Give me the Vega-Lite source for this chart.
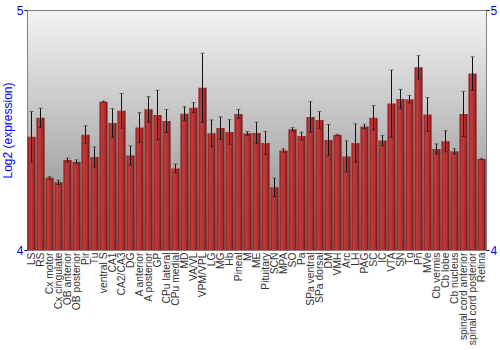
{
  "$schema": "https://vega.github.io/schema/vega-lite/v6.json",
  "width": 459,
  "height": 240,
  "autosize": "none",
  "padding": {"left": 27, "top": 10, "right": 14, "bottom": 100},
  "background": "white",
  "config": {
    "view": {
      "fill": {"gradient": "linear", "x1": 0, "y1": 0, "x2": 0, "y2": 1, "stops": [{"offset": 0, "color": "#f4f4f4"}, {"offset": 1, "color": "#858585"}]},
      "stroke": "#808080"
    },
    "font": "Liberation Sans"
  },
  "data": {"values": [
    {"region": "LS", "v": 4.472, "e": 0.105},
    {"region": "RS", "v": 4.551, "e": 0.04},
    {"region": "Cx motor", "v": 4.301, "e": 0.005},
    {"region": "Cx cingulate", "v": 4.282, "e": 0.009},
    {"region": "OB anterior", "v": 4.375, "e": 0.008},
    {"region": "OB posterior", "v": 4.368, "e": 0.008},
    {"region": "Pir", "v": 4.48, "e": 0.0375},
    {"region": "Tu", "v": 4.3875, "e": 0.042},
    {"region": "ventral S", "v": 4.618, "e": 0.003},
    {"region": "CA1", "v": 4.529, "e": 0.06},
    {"region": "CA2/CA3", "v": 4.58, "e": 0.072},
    {"region": "DG", "v": 4.394, "e": 0.04},
    {"region": "A anterior", "v": 4.51, "e": 0.0625},
    {"region": "A posterior", "v": 4.586, "e": 0.053},
    {"region": "GP", "v": 4.5625, "e": 0.103},
    {"region": "CPu lateral", "v": 4.5375, "e": 0.048},
    {"region": "CPu medial", "v": 4.34, "e": 0.018},
    {"region": "MD", "v": 4.568, "e": 0.029},
    {"region": "VA/VL", "v": 4.593, "e": 0.021},
    {"region": "VPM/VPL", "v": 4.676, "e": 0.144},
    {"region": "LG", "v": 4.486, "e": 0.056},
    {"region": "MG", "v": 4.508, "e": 0.047},
    {"region": "Hb", "v": 4.492, "e": 0.051},
    {"region": "Pineal", "v": 4.567, "e": 0.019},
    {"region": "M", "v": 4.486, "e": 0.008},
    {"region": "ME", "v": 4.4875, "e": 0.045},
    {"region": "Pituitary", "v": 4.446, "e": 0.048},
    {"region": "SCN", "v": 4.261, "e": 0.039},
    {"region": "MPA", "v": 4.415, "e": 0.007},
    {"region": "SO", "v": 4.503, "e": 0.007},
    {"region": "Pa", "v": 4.475, "e": 0.016},
    {"region": "SPa ventral", "v": 4.554, "e": 0.064},
    {"region": "SPa dorsal", "v": 4.542, "e": 0.035},
    {"region": "DM", "v": 4.458, "e": 0.065},
    {"region": "VMH", "v": 4.479, "e": 0.003},
    {"region": "Arc", "v": 4.39, "e": 0.065},
    {"region": "LH", "v": 4.446, "e": 0.08},
    {"region": "PAG", "v": 4.515, "e": 0.009},
    {"region": "SC", "v": 4.551, "e": 0.051},
    {"region": "IC", "v": 4.456, "e": 0.021},
    {"region": "VTA", "v": 4.61, "e": 0.14},
    {"region": "SN", "v": 4.629, "e": 0.04},
    {"region": "Tg", "v": 4.628, "e": 0.016},
    {"region": "Pn", "v": 4.761, "e": 0.049},
    {"region": "MVe", "v": 4.565, "e": 0.07},
    {"region": "Cb vermis", "v": 4.421, "e": 0.021},
    {"region": "Cb lobe", "v": 4.453, "e": 0.044},
    {"region": "Cb nucleus", "v": 4.411, "e": 0.011},
    {"region": "spinal cord anterior", "v": 4.567, "e": 0.094},
    {"region": "spinal cord posterior", "v": 4.735, "e": 0.07},
    {"region": "Retina", "v": 4.379, "e": 0.003}
  ]},
  "transform": [
    {"calculate": "datum.v - datum.e", "as": "lo"},
    {"calculate": "datum.v + datum.e", "as": "hi"}
  ],
  "encoding": {
    "x": {
      "field": "region", "type": "nominal", "sort": null,
      "scale": {"paddingInner": 0.1, "paddingOuter": 0.05},
      "axis": {"title": null, "labelAngle": -90, "labelFontSize": 10.3, "labelColor": "#333333", "domain": false, "ticks": false, "labelPadding": 2, "labelFont": "Liberation Sans", "labelOverlap": false}
    }
  },
  "layer": [
    {
      "mark": {"type": "bar", "clip": true, "color": {"gradient": "linear", "x1": 0, "y1": 0, "x2": 1, "y2": 0, "stops": [{"offset": 0, "color": "#861c1c"}, {"offset": 0.3, "color": "#c23c3c"}, {"offset": 0.7, "color": "#ab2e2e"}, {"offset": 1, "color": "#701212"}]}},
      "encoding": {
        "y": {
          "field": "v", "type": "quantitative",
          "scale": {"domain": [4, 5], "nice": false, "zero": false},
          "axis": {"orient": "left", "values": [4, 5], "format": "d", "title": "Log2 (expression)", "titleColor": "#0000ff", "titleFontSize": 12, "titleFontWeight": "normal", "titleFont": "Liberation Sans", "titlePadding": 2, "labelColor": "#0000ff", "labelFontSize": 12, "labelFont": "Liberation Sans", "grid": false, "domainColor": "#808080", "tickColor": "#000000", "tickSize": 3, "labelPadding": 1, "labelFlush": false}
        },
        "y2": {"value": 240}
      }
    },
    {
      "mark": {"type": "rule", "color": "#111111", "strokeWidth": 1},
      "encoding": {
        "y": {"field": "lo", "type": "quantitative", "scale": {"domain": [4, 5], "nice": false, "zero": false},
          "axis": {"orient": "right", "values": [4, 5], "format": "d", "title": null, "labelColor": "#0000ff", "labelFontSize": 12, "labelFont": "Liberation Sans", "grid": false, "domainColor": "#808080", "tickColor": "#000000", "tickSize": 3, "labelPadding": 1, "labelFlush": false}},
        "y2": {"field": "hi"}
      }
    },
    {
      "mark": {"type": "tick", "color": "#222222", "size": 4, "thickness": 1},
      "encoding": {"y": {"field": "lo", "type": "quantitative", "axis": null}}
    },
    {
      "mark": {"type": "tick", "color": "#444444", "size": 4, "thickness": 1},
      "encoding": {"y": {"field": "hi", "type": "quantitative", "axis": null}}
    }
  ],
  "resolve": {"axis": {"y": "independent"}}
}
